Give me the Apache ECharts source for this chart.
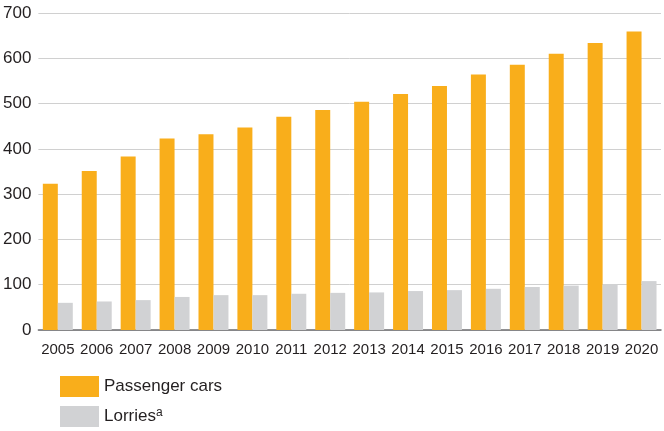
<!DOCTYPE html>
<html>
<head>
<meta charset="utf-8">
<script src="https://cdn.jsdelivr.net/npm/echarts@6/dist/echarts.min.js"></script>
<style>
  html, body { margin: 0; padding: 0; background: #fff; }
  #main { width: 664px; height: 431px; }
</style>
</head>
<body>
<div id="main"></div>
<script>
// years on the x axis
var years = ['2005', '2006', '2007', '2008', '2009', '2010', '2011', '2012',
             '2013', '2014', '2015', '2016', '2017', '2018', '2019', '2020'];
// passenger cars
var cars = [323, 351, 383, 423, 432, 447, 471, 486, 504, 521, 539, 564, 586, 610, 634, 659];
// lorries
var lorries = [60, 63, 66, 73, 77, 77, 80, 82, 83, 86, 88, 91, 95, 98, 101, 108];

var chart = echarts.init(document.getElementById('main'));
var fontFam = '"Liberation Sans", Arial, sans-serif';

// one legend per entry so they stack like the original
function legendBox(name, top) {
  return {
    orient: 'vertical',
    left: 55,
    top: top,
    itemWidth: 39,
    itemHeight: 21,
    icon: 'rect',
    data: [name],
    formatter: function (n) {
      return n === 'Lorries' ? 'Lorries{sup|a}' : n;
    },
    textStyle: {
      fontSize: 17,
      color: '#231f20',
      fontFamily: fontFam,
      rich: {
        sup: { fontSize: 12, color: '#231f20', verticalAlign: 'top', padding: [0, 0, 8, 0] }
      }
    }
  };
}

chart.setOption({
  animation: false,
  textStyle: { fontFamily: fontFam },
  grid: { left: 37, right: 3, top: 13, bottom: 101 },
  legend: [legendBox('Passenger cars', 371), legendBox('Lorries', 401)],
  xAxis: {
    type: 'category',
    data: years,
    axisTick: { show: false },
    axisLine: { lineStyle: { color: '#6d6e70', width: 1.5 } },
    axisLabel: { fontSize: 15, color: '#231f20', margin: 12, interval: 0 }
  },
  yAxis: {
    type: 'value',
    min: 0,
    max: 700,
    interval: 100,
    axisLine: { show: false },
    axisTick: { show: false },
    splitLine: { lineStyle: { color: '#d0d0d0', width: 1 } },
    axisLabel: { fontSize: 17, color: '#231f20', margin: 7 }
  },
  series: [
    {
      name: 'Passenger cars',
      type: 'bar',
      data: cars,
      barGap: '0%',
      barCategoryGap: '23%',
      itemStyle: { color: '#f9ae1b' }
    },
    {
      name: 'Lorries',
      type: 'bar',
      data: lorries,
      itemStyle: { color: '#d1d2d4' }
    }
  ]
});
</script>
</body>
</html>
